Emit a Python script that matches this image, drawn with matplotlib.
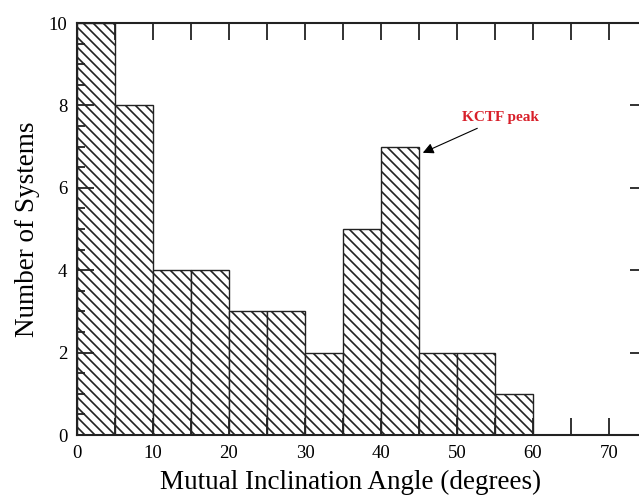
import numpy as np
import matplotlib.pyplot as plt
from matplotlib.ticker import MultipleLocator

# rendered at 90 dpi so the hatch spacing comes out ~10 px; sizes scaled by k
DPI = 90
k = 100.0 / DPI

plt.rcParams['font.family'] = ['Liberation Serif', 'DejaVu Serif']
plt.rcParams['hatch.linewidth'] = 1.2 * k
plt.rcParams['hatch.color'] = '#444444'

# histogram of mutual inclinations (5 degree bins)
bin_edges = [0, 5, 10, 15, 20, 25, 30, 35, 40, 45, 50, 55, 60]
counts = [10, 8, 4, 4, 3, 3, 2, 5, 7, 2, 2, 1]

fig = plt.figure(figsize=(639 / DPI, 495 / DPI), dpi=DPI)
ax = fig.add_axes([0.1205, 0.1212, 0.892, 0.8323])

left = np.array(bin_edges[:-1])
width = np.diff(bin_edges)
ax.bar(left, counts, width=width, align='edge', facecolor='white',
       edgecolor='#222222', linewidth=1.0 * k, hatch='\\\\\\')

ax.set_xlim(0, 75)
ax.set_ylim(0, 10)
ax.xaxis.set_major_locator(MultipleLocator(10))
ax.xaxis.set_minor_locator(MultipleLocator(5))
ax.yaxis.set_major_locator(MultipleLocator(2))
ax.yaxis.set_minor_locator(MultipleLocator(0.5))
ax.tick_params(which='both', direction='in', top=True, right=True,
               width=1.3 * k, labelsize=13.5 * k, pad=7 * k, color='#222222')
ax.tick_params(axis='x', which='both', length=12 * k)
ax.tick_params(axis='y', which='major', length=12 * k)
ax.tick_params(axis='y', which='minor', length=6 * k)
for s in ax.spines.values():
    s.set_linewidth(1.5 * k)
    s.set_color('#222222')

ax.set_xlabel('Mutual Inclination Angle (degrees)', fontsize=19.5 * k, labelpad=5 * k)
ax.xaxis.set_label_coords(0.48, -0.085)
ax.set_ylabel('Number of Systems', fontsize=19.5 * k, labelpad=6 * k)

ax.annotate('KCTF peak', xy=(45.5, 6.85), xytext=(50.7, 7.7),
            color='#d8202a', fontsize=11 * k, fontweight='bold', ha='left', va='center',
            arrowprops=dict(arrowstyle='-|>', color='black', lw=0.8 * k,
                            mutation_scale=16 * k, shrinkA=3, shrinkB=0))

fig.savefig('out.png', dpi=DPI)
